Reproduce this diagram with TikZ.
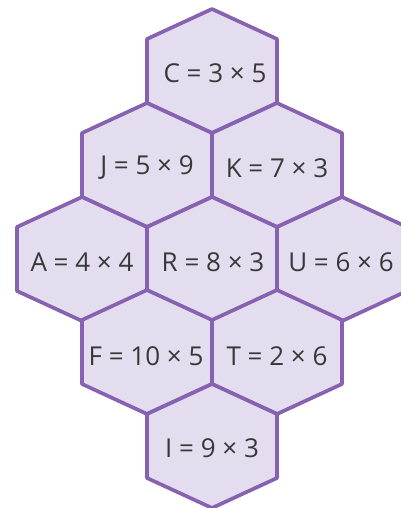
\documentclass[tikz,border=0pt]{standalone}
\usepackage{fontspec}
\setmainfont{Open Sans}
\usepackage{xcolor}
\definecolor{HexFill}{HTML}{E3DDEF}
\definecolor{HexEdge}{HTML}{8662B0}
\definecolor{TextGray}{HTML}{383838}
\usepackage{tikz}
\usetikzlibrary{positioning}

\tikzset{
  hexcell/.style={fill=HexFill, draw=HexEdge, line width=2.1pt, line join=round},
  sumtext/.style={font=\fontsize{14.8}{17}\selectfont, text=TextGray}
}
% one squashed hexagon round a centre
\newcommand{\hexcellat}[2]{%
  \filldraw[hexcell] (#1,#2) ++(0,-62) -- ++(65,30) -- ++(0,64) -- ++(-65,30)
    -- ++(-65,-30) -- ++(0,-64) -- cycle;}

\begin{document}
\begin{tikzpicture}[x=0.02cm, y=-0.02cm]
  \useasboundingbox (0,0) rectangle (401,508);
  \clip (0,0) rectangle (401,508);
  % cells
  \foreach \cx/\cy in {212/71, 147/165, 277/165, 82/259, 212/259, 342/259,
                       147/352, 277/352, 212/446}
    \hexcellat{\cx}{\cy};
  % sums
  \foreach \name/\cx/\cy/\txt in {C/215/73/{C = 3 × 5}, J/147/168/{J = 5 × 9},
      K/277/168/{K = 7 × 3}, A/82/262/{A = 4 × 4}, R/213/262/{R = 8 × 3},
      U/341/262/{U = 6 × 6}, F/146/356/{F = 10 × 5}, T/277/356/{T = 2 × 6},
      I/212/448/{I = 9 × 3}}
    \node[sumtext] (\name) at (\cx,\cy) {\txt};
\end{tikzpicture}
\end{document}
